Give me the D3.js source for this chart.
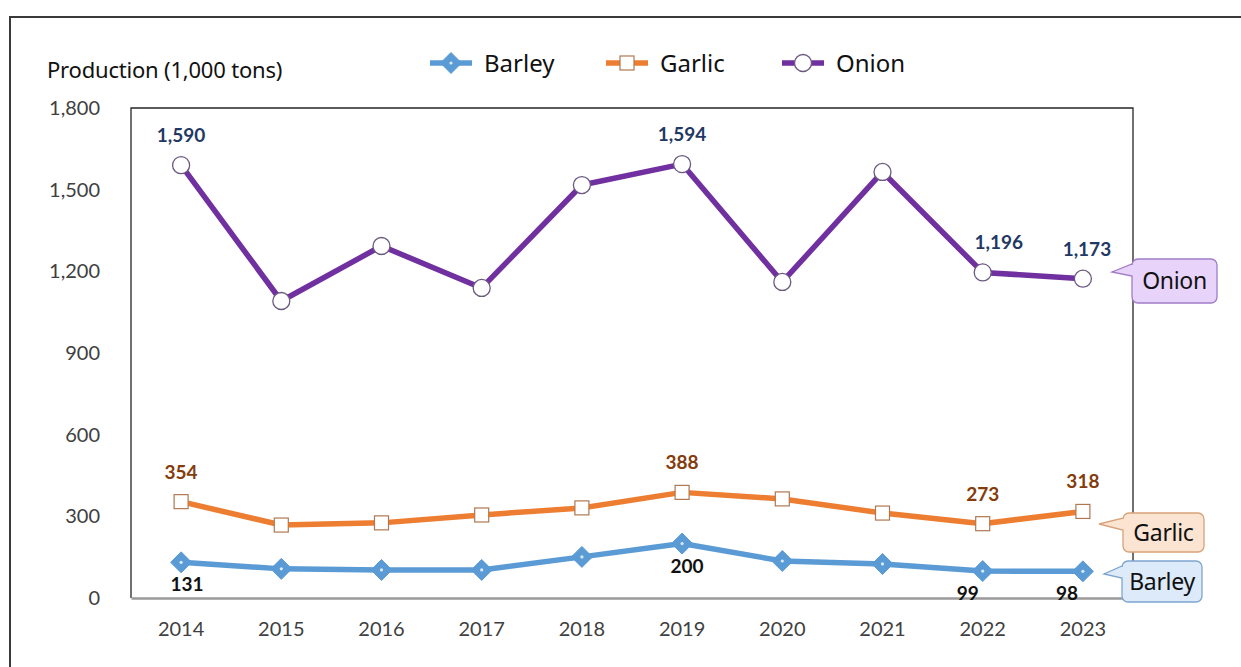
<!DOCTYPE html>
<html>
<head>
<meta charset="utf-8">
<script src="https://cdn.jsdelivr.net/npm/d3@7"></script>
<style>
  body { margin: 0; background: #fff; }
  svg { display: block; }
</style>
</head>
<body>
<div id="chart"></div>
<script>
// data
var years = ["2014", "2015", "2016", "2017", "2018", "2019", "2020", "2021", "2022", "2023"];
var barley = [131, 107, 103, 103, 151, 200, 136, 125, 99, 98];
var garlic = [354, 268, 276, 305, 331, 388, 364, 312, 273, 318];
var onion = [1590, 1091, 1293, 1139, 1517, 1594, 1161, 1565, 1196, 1173];
var yTicks = [0, 300, 600, 900, 1200, 1500, 1800];
var labelled = ["2014", "2019", "2022", "2023"];

var svgWidth = 1241;
var svgHeight = 667;
var plot = { left: 131, right: 1133, top: 108, bottom: 598 };

var svg = d3.select("#chart").append("svg")
  .attr("width", svgWidth)
  .attr("height", svgHeight)
  .style("font-family", "Lato, 'Open Sans', sans-serif");

// outer frame (runs off the right and bottom edges)
svg.append("rect")
  .attr("x", 10).attr("y", 17)
  .attr("width", 1260).attr("height", 700)
  .attr("fill", "none")
  .attr("stroke", "#3a3a3a")
  .attr("stroke-width", 2);

var x = d3.scaleBand().domain(years).range([plot.left, plot.right]);
var y = d3.scaleLinear().domain([0, 1800]).range([plot.bottom, plot.top]);
var cx = function(d) { return x(d) + x.bandwidth() / 2; };

// plot area frame
svg.append("path")
  .attr("d", "M" + plot.left + "," + plot.bottom + "V" + plot.top + "H" + plot.right + "V" + plot.bottom)
  .attr("fill", "none")
  .attr("stroke", "#262626")
  .attr("stroke-width", 1.3);

// y axis labels
var yAxis = d3.axisLeft(y).tickValues(yTicks).tickSize(0).tickPadding(31)
  .tickFormat(d3.format(","));
svg.append("g")
  .attr("transform", "translate(" + plot.left + ",0)")
  .call(yAxis)
  .call(function(g) { g.select(".domain").remove(); })
  .selectAll("text")
  .attr("font-size", 20)
  .attr("fill", "#404040")
  .attr("font-family", "Lato, sans-serif");

// x axis
var xAxis = d3.axisBottom(x).tickSize(0).tickPadding(24);
svg.append("g")
  .attr("transform", "translate(0," + plot.bottom + ")")
  .call(xAxis)
  .call(function(g) {
    g.select(".domain").attr("stroke", "#9a9a9a").attr("stroke-width", 2.5);
  })
  .selectAll("text")
  .attr("font-size", 20)
  .attr("fill", "#404040")
  .attr("font-family", "Lato, sans-serif");

// axis title
svg.append("text")
  .attr("x", 47).attr("y", 78)
  .attr("font-size", 22)
  .attr("font-family", "'Noto Sans', sans-serif")
  .attr("letter-spacing", -0.2)
  .attr("fill", "#111")
  .text("Production (1,000 tons)");

var series = [
  { name: "Barley", values: barley, color: "#5b9bd5", marker: "diamond", labelColor: "#111", below: true },
  { name: "Garlic", values: garlic, color: "#ed7d31", marker: "square", labelColor: "#843c0c", below: false },
  { name: "Onion", values: onion, color: "#7030a0", marker: "circle", labelColor: "#1f3864", below: false }
];

function drawMarker(sel, kind, color) {
  if (kind === "diamond") {
    sel.append("path")
      .attr("d", "M0,-10.5L10.5,0L0,10.5L-10.5,0Z")
      .attr("fill", color)
      .attr("stroke", color)
      .attr("stroke-width", 1);
    sel.append("circle").attr("r", 1.6).attr("fill", "#dbe9f8");
  } else if (kind === "square") {
    sel.append("rect")
      .attr("x", -7).attr("y", -7)
      .attr("width", 14).attr("height", 14)
      .attr("fill", "#fff")
      .attr("stroke", "#b07850")
      .attr("stroke-width", 1.2);
  } else {
    sel.append("circle")
      .attr("r", 8.5)
      .attr("fill", "#fff")
      .attr("stroke", "#6a5a80")
      .attr("stroke-width", 1.3);
  }
}

var line = d3.line()
  .x(function(d) { return cx(d.year); })
  .y(function(d) { return y(d.value); });

// small nudges of some labels, as in the reference
var labelShift = { "Barley-2022": -15, "Barley-2023": -16, "Onion-2022": 16, "Onion-2023": 4, "Barley-2014": 6, "Barley-2019": 5 };

series.forEach(function(s) {
  var pts = years.map(function(yr, i) { return { year: yr, value: s.values[i] }; });

  svg.append("path")
    .datum(pts)
    .attr("d", line)
    .attr("fill", "none")
    .attr("stroke", s.color)
    .attr("stroke-width", 5.5)
    .attr("stroke-linejoin", "round");

  svg.selectAll(".m-" + s.name)
    .data(pts)
    .enter().append("g")
    .attr("class", "m-" + s.name)
    .attr("transform", function(d) { return "translate(" + cx(d.year) + "," + y(d.value) + ")"; })
    .each(function() { drawMarker(d3.select(this), s.marker, s.color); });

  svg.selectAll(".l-" + s.name)
    .data(pts.filter(function(d) { return labelled.indexOf(d.year) >= 0; }))
    .enter().append("text")
    .attr("class", "l-" + s.name)
    .attr("x", function(d) { return cx(d.year) + (labelShift[s.name + "-" + d.year] || 0); })
    .attr("y", function(d) { return y(d.value) + (s.below ? 29 : -23); })
    .attr("text-anchor", "middle")
    .attr("font-size", 19)
    .attr("font-weight", "bold")
    .attr("fill", s.labelColor)
    .text(function(d) { return d3.format(",")(d.value); });
});

// legend
var legend = svg.append("g").attr("transform", "translate(430,63)");
var legendX = [0, 176, 352];
series.forEach(function(s, i) {
  var g = legend.append("g").attr("transform", "translate(" + legendX[i] + ",0)");
  g.append("line")
    .attr("x1", 0).attr("x2", 42)
    .attr("stroke", s.color)
    .attr("stroke-width", 5.5);
  var m = g.append("g").attr("transform", "translate(21,0)");
  drawMarker(m, s.marker, s.color);
  g.append("text")
    .attr("x", 54).attr("y", 9)
    .attr("font-size", 24)
    .attr("font-family", "'Noto Sans', sans-serif")
    .attr("fill", "#111")
    .text(s.name);
});

// callouts at the right end of each line
var callouts = [
  { name: "Onion", fill: "#e8d3fb", stroke: "#a07cc8", box: [1132, 259, 85, 44], tip: [1112, 272] },
  { name: "Garlic", fill: "#fce4d2", stroke: "#d7a27a", box: [1123, 513, 81, 39], tip: [1099, 524] },
  { name: "Barley", fill: "#dceaf9", stroke: "#7ea5cf", box: [1122, 561, 80, 41], tip: [1104, 574] }
];
callouts.forEach(function(c) {
  var bx = c.box[0], by = c.box[1], bw = c.box[2], bh = c.box[3], r = 6;
  var p = d3.path();
  p.moveTo(bx + r, by);
  p.lineTo(bx + bw - r, by);
  p.arcTo(bx + bw, by, bx + bw, by + r, r);
  p.lineTo(bx + bw, by + bh - r);
  p.arcTo(bx + bw, by + bh, bx + bw - r, by + bh, r);
  p.lineTo(bx + r, by + bh);
  p.arcTo(bx, by + bh, bx, by + bh - r, r);
  p.lineTo(bx, by + 17);
  p.lineTo(c.tip[0], c.tip[1]);
  p.lineTo(bx, by + 5);
  p.arcTo(bx, by, bx + r, by, r);
  p.closePath();
  svg.append("path")
    .attr("d", p.toString())
    .attr("fill", c.fill)
    .attr("stroke", c.stroke)
    .attr("stroke-width", 1.3);
  svg.append("text")
    .attr("x", bx + bw / 2).attr("y", by + bh / 2 + 8)
    .attr("text-anchor", "middle")
    .attr("font-size", 23)
    .attr("font-family", "'Noto Sans', sans-serif")
    .attr("letter-spacing", -0.3)
    .attr("fill", "#111")
    .text(c.name);
});
</script>
</body>
</html>
